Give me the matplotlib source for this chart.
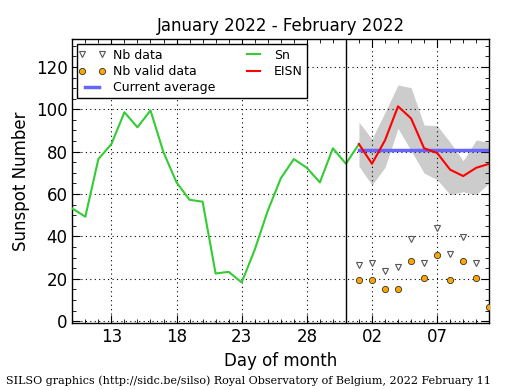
import numpy as np
import matplotlib
matplotlib.use('Agg')
import matplotlib.pyplot as plt
from matplotlib.legend_handler import HandlerLine2D

# ── Data (day index 0 = Jan 10 2022, 32 = Feb 11 2022) ─────────────────────
sn_days = list(range(0, 23))
sn_vals = [53.2, 49.3, 76.5, 83.6, 98.6, 91.5, 99.5, 79.7, 65.5, 57.3, 56.4,
           22.5, 23.3, 18.3, 33.7, 52.1, 67.4, 76.5, 72.4, 65.5, 81.6, 74.3,
           83.6]

eisn_days = list(range(22, 33))
eisn_vals = [83.6, 74.3, 85.4, 101.4, 95.7, 81.6, 79.4, 71.5, 68.5, 72.4, 74.3]
eisn_hi   = [93.9, 86.0, 98.6, 111.5, 110.2, 92.6, 92.3, 84.4, 75.7, 85.5, 84.4]
eisn_lo   = [73.1, 64.3, 72.6, 91.0, 80.5, 69.9, 66.8, 59.7, 61.1, 59.7, 65.2]

nb_days  = list(range(22, 32))
nb_data  = [26.6, 27.7, 23.5, 25.5, 38.7, 27.7, 43.8, 31.5, 39.5, 27.7]
nbv_days = list(range(22, 33))
nb_valid = [19.5, 19.5, 15.3, 15.3, 28.5, 20.5, 31.3, 19.5, 28.5, 20.5, 6.5]

avg_days = [22, 32]
avg_val  = 80.8

tick_pos    = [3, 8, 13, 18, 23, 28]
tick_labels = ['13', '18', '23', '28', '02', '07']
month_split = 21

# ── Plot ────────────────────────────────────────────────────────────────────
fig = plt.figure(figsize=(5.15, 3.9), dpi=100)
ax = fig.add_axes([0.1404, 0.171, 0.8096, 0.728])

ax.fill_between(eisn_days, eisn_lo, eisn_hi, color='#cccccc', lw=0, zorder=1)
h_nb, = ax.plot(nb_days, nb_data, 'v', ms=4, mfc='white', mec='#555555',
                mew=0.8, label='Nb data', zorder=4)
h_nbv, = ax.plot(nbv_days, nb_valid, 'o', ms=4.5, mfc='#ffa500',
                 mec='#333333', mew=0.6, label='Nb valid data', zorder=4)
ax.plot(avg_days, [avg_val, avg_val], color='#6666ff', lw=2.5,
        label='Current average', zorder=2)
ax.plot(sn_days, sn_vals, color='#33cc33', lw=1.5, label='Sn', zorder=3)
ax.plot(eisn_days, eisn_vals, color='red', lw=1.5, label='EISN', zorder=3)
ax.axvline(month_split, color='black', lw=1.0, zorder=5)

ax.set_xlim(0, 32)
ax.set_ylim(-1, 133)
ax.set_xticks(tick_pos)
ax.set_xticklabels(tick_labels)
ax.set_xticks(range(0, 33), minor=True)
ax.set_yticks(range(0, 121, 20))
ax.set_yticks(range(0, 131, 5), minor=True)
ax.tick_params(which='both', direction='in', top=True, right=True,
               labelsize=12)
ax.tick_params(which='major', length=6)
ax.tick_params(which='minor', length=3)
ax.grid(True, which='major', color='black', ls=(0, (1, 3)), lw=0.8)
for sp in ax.spines.values():
    sp.set_linewidth(1.0)

ax.set_xlabel('Day of month', fontsize=12)
ax.set_ylabel('Sunspot Number', fontsize=12)
ax.set_title('January 2022 - February 2022', fontsize=12)

leg = ax.legend(loc='upper left', ncol=2, numpoints=2, fontsize=9,
                fancybox=False, framealpha=1, edgecolor='black',
                borderaxespad=0.4, handlelength=1.7, handletextpad=0.8,
                columnspacing=2.2, labelspacing=0.25, borderpad=0.35,
                handler_map={h_nb: HandlerLine2D(marker_pad=0.05),
                             h_nbv: HandlerLine2D(marker_pad=0.05)})
leg.get_frame().set_linewidth(1.0)

fig.text(0.012, 0.015, 'SILSO graphics (http://sidc.be/silso) Royal Observatory '
         'of Belgium, 2022 February 11', family='DejaVu Serif', fontsize=8)

fig.savefig('out.png', dpi=100)
